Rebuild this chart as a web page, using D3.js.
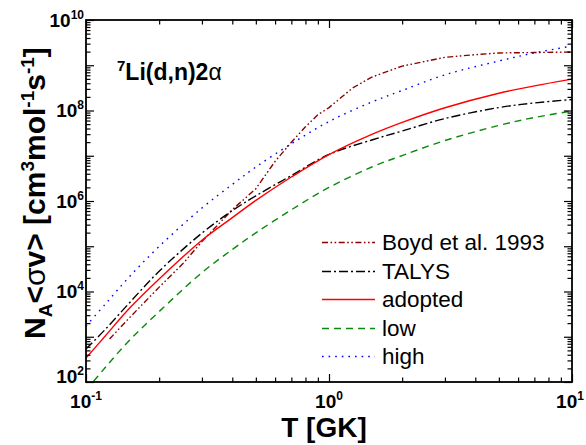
<!DOCTYPE html>
<html>
<head>
<meta charset="utf-8">
<script src="https://cdn.jsdelivr.net/npm/d3@7"></script>
<style>
  body { margin: 0; background: #fff; }
  svg { display: block; }
</style>
</head>
<body>
<svg id="chart" width="586" height="445"></svg>
<script>
// Temperature grid (GK) shared by the TALYS / adopted / low / high rates
const tempGrid = [0.1, 0.12, 0.15, 0.2, 0.3, 0.4, 0.5, 0.7, 1.0, 1.5, 2, 3, 5, 7, 10];

// Reaction rates N_A<σv> in cm^3 mol^-1 s^-1
const talysRate = [5.36e2, 1.45e3, 5.41e3, 2.81e4, 1.95e5, 6.11e5, 1.30e6, 3.66e6, 1.07e7, 2.23e7, 3.52e7, 6.65e7, 1.16e8, 1.47e8, 1.75e8];
const adoptedRate = [3.39e2, 1.04e3, 4.10e3, 1.89e4, 1.36e5, 4.28e5, 1.03e6, 3.39e6, 1.06e7, 2.96e7, 5.46e7, 1.15e8, 2.41e8, 3.50e8, 4.94e8];
const lowRate = [6.49e1, 2.09e2, 8.05e2, 3.61e3, 2.62e4, 8.47e4, 1.98e5, 6.40e5, 1.99e6, 5.64e6, 1.01e7, 2.17e7, 4.67e7, 7.00e7, 9.75e7];
const highRate = [1.73e3, 5.24e3, 2.05e4, 9.93e4, 7.00e5, 2.32e6, 5.64e6, 1.84e7, 5.71e7, 1.54e8, 2.77e8, 6.15e8, 1.24e9, 1.87e9, 2.66e9];

// Boyd et al. 1993 tabulation
const boydTemp = [0.125, 0.15, 0.2, 0.25, 0.3, 0.4, 0.5, 0.6, 0.7, 0.8, 0.9, 1.0, 1.25, 1.5, 2, 3, 4, 5, 7, 10];
const boydRate = [8.91e2, 2.54e3, 1.25e4, 4.09e4, 1.27e5, 6.43e5, 1.87e6, 7.50e6, 1.99e7, 4.35e7, 8.04e7, 1.16e8, 3.13e8, 5.47e8, 9.57e8, 1.50e9, 1.71e9, 1.87e9, 1.91e9, 1.96e9];

// Axis ticks
const xMajor = [0.1, 1, 10];
const xMajorExp = ["-1", "0", "1"];
const yMajor = [1e2, 1e3, 1e4, 1e5, 1e6, 1e7, 1e8, 1e9, 1e10];
const yLabelled = [1e2, 1e4, 1e6, 1e8, 1e10];
const yLabelExp = ["2", "4", "6", "8", "10"];

const legendNames = ["Boyd et al. 1993", "TALYS", "adopted", "low", "high"];

const svg = d3.select("#chart");
const L = 86, R = 572, T = 20, B = 382;

const x = d3.scaleLog().domain([0.1, 10]).range([L, R]);
const y = d3.scaleLog().domain([1e2, 1e10]).range([B, T]);

const xMinor = [];
[0.1, 1].forEach(d => { for (let k = 2; k <= 9; k++) xMinor.push(k * d); });
const yMinor = [];
for (let e = 2; e < 10; e++) for (let k = 2; k <= 9; k++) yMinor.push(k * Math.pow(10, e));

const smooth = d3.curveCatmullRom.alpha(0.5);
const series = [
  { name: legendNames[0], t: boydTemp, v: boydRate, color: "#8b0000", dash: "6,2.5,1.6,2.5,1.6,2.5", curve: d3.curveLinear },
  { name: legendNames[1], t: tempGrid, v: talysRate, color: "#000000", dash: "9,3,2,3", curve: smooth },
  { name: legendNames[2], t: tempGrid, v: adoptedRate, color: "#ff0000", dash: "none", curve: smooth },
  { name: legendNames[3], t: tempGrid, v: lowRate, color: "#0a8a0a", dash: "7,5", curve: smooth },
  { name: legendNames[4], t: tempGrid, v: highRate, color: "#0000ff", dash: "1.6,5", curve: smooth }
];

svg.append("defs").append("clipPath").attr("id", "plotClip")
  .append("rect").attr("x", L).attr("y", T).attr("width", R - L).attr("height", B - T);

// Curves
const plot = svg.append("g").attr("clip-path", "url(#plotClip)");
series.forEach(s => {
  const pts = s.t.map((t, i) => [t, s.v[i]]);
  const line = d3.line().x(d => x(d[0])).y(d => y(d[1])).curve(s.curve);
  plot.append("path")
    .attr("d", line(pts))
    .attr("fill", "none")
    .attr("stroke", s.color)
    .attr("stroke-width", 1.4)
    .attr("stroke-dasharray", s.dash);
});

// Axes with inward ticks on all four sides
function styleAxis(g) {
  g.select(".domain").remove();
  g.selectAll(".tick line").attr("stroke", "#000").attr("stroke-width", 1.2);
}
const MAJ = 8, MIN = 4.5;
svg.append("g").attr("transform", `translate(0,${B})`)
  .call(d3.axisBottom(x).tickValues(xMajor).tickSize(-MAJ).tickFormat("")).call(styleAxis);
svg.append("g").attr("transform", `translate(0,${B})`)
  .call(d3.axisBottom(x).tickValues(xMinor).tickSize(-MIN).tickFormat("")).call(styleAxis);
svg.append("g").attr("transform", `translate(0,${T})`)
  .call(d3.axisTop(x).tickValues(xMajor).tickSize(-MAJ).tickFormat("")).call(styleAxis);
svg.append("g").attr("transform", `translate(0,${T})`)
  .call(d3.axisTop(x).tickValues(xMinor).tickSize(-MIN).tickFormat("")).call(styleAxis);
svg.append("g").attr("transform", `translate(${L},0)`)
  .call(d3.axisLeft(y).tickValues(yMajor).tickSize(-MAJ).tickFormat("")).call(styleAxis);
svg.append("g").attr("transform", `translate(${L},0)`)
  .call(d3.axisLeft(y).tickValues(yMinor).tickSize(-MIN).tickFormat("")).call(styleAxis);
svg.append("g").attr("transform", `translate(${R},0)`)
  .call(d3.axisRight(y).tickValues(yMajor).tickSize(-MAJ).tickFormat("")).call(styleAxis);
svg.append("g").attr("transform", `translate(${R},0)`)
  .call(d3.axisRight(y).tickValues(yMinor).tickSize(-MIN).tickFormat("")).call(styleAxis);

// Frame
svg.append("rect").attr("x", L).attr("y", T).attr("width", R - L).attr("height", B - T)
  .attr("fill", "none").attr("stroke", "#000").attr("stroke-width", 1.8);

const FONT = "'Liberation Sans', Arial, Helvetica, sans-serif";

// Tick labels: powers of ten
function powerLabel(sel, exp) {
  sel.append("tspan").text("10");
  sel.append("tspan").attr("font-size", 12).attr("dy", -8).text(exp);
}
xMajor.forEach((v, i) => {
  svg.append("text").attr("x", Math.min(x(v), 570)).attr("y", 408)
    .attr("text-anchor", "middle").attr("font-family", FONT)
    .attr("font-weight", "bold").attr("font-size", 19)
    .call(powerLabel, xMajorExp[i]);
});
yLabelled.forEach((v, i) => {
  // the lowest label is lifted clear of the x-axis labels
  const dy = i === 0 ? 0.5 : 6.7;
  svg.append("text").attr("x", 84).attr("y", y(v) + dy)
    .attr("text-anchor", "end").attr("font-family", FONT)
    .attr("font-weight", "bold").attr("font-size", 19)
    .call(powerLabel, yLabelExp[i]);
});

// Axis titles
svg.append("text").attr("x", 324).attr("y", 437)
  .attr("text-anchor", "middle").attr("font-family", FONT)
  .attr("font-weight", "bold").attr("font-size", 28)
  .text("T [GK]");

const yTitle = svg.append("text")
  .attr("transform", `translate(45,193) rotate(-90)`)
  .attr("text-anchor", "middle").attr("font-family", FONT)
  .attr("font-weight", "bold").attr("font-size", 30);
yTitle.append("tspan").text("N");
yTitle.append("tspan").attr("font-size", 19).attr("dy", 7).text("A");
yTitle.append("tspan").attr("dy", -7).text("<");
yTitle.append("tspan").attr("font-weight", "normal").text("σ");
yTitle.append("tspan").text("v> [cm");
yTitle.append("tspan").attr("font-size", 19).attr("dy", -11).text("3");
yTitle.append("tspan").attr("dy", 11).text("mol");
yTitle.append("tspan").attr("font-size", 19).attr("dy", -11).text("-1");
yTitle.append("tspan").attr("dy", 11).text("s");
yTitle.append("tspan").attr("font-size", 19).attr("dy", -11).text("-1");
yTitle.append("tspan").attr("dy", 11).text("]");

// Reaction label
const title = svg.append("text").attr("x", 117).attr("y", 80)
  .attr("font-family", FONT).attr("font-weight", "bold").attr("font-size", 23);
title.append("tspan").attr("font-size", 15).attr("dy", -9).text("7");
title.append("tspan").attr("dy", 9).text("Li(d,n)2");
title.append("tspan").attr("font-weight", "normal").text("α");

// Legend
const legend = svg.append("g");
series.forEach((s, i) => {
  const ly = Math.round(242 + i * 28.5) + 0.5;
  legend.append("line").attr("x1", 322).attr("x2", 375).attr("y1", ly).attr("y2", ly)
    .attr("stroke", s.color).attr("stroke-width", 1.3)
    .attr("stroke-dasharray", s.dash);
  legend.append("text").attr("x", 382).attr("y", ly + 7.5)
    .attr("font-family", FONT).attr("font-size", 22.5).attr("fill", "#000")
    .text(s.name);
});
</script>
</body>
</html>
